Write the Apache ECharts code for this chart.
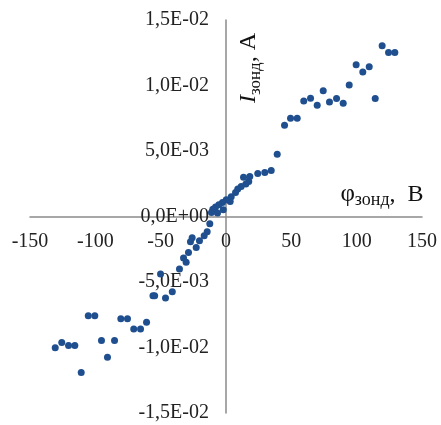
<!DOCTYPE html>
<html>
<head>
<meta charset="utf-8">
<script src="https://cdn.jsdelivr.net/npm/echarts@6/dist/echarts.min.js"></script>
<style>html,body{margin:0;padding:0;background:#fff}#c{width:441px;height:425px}</style>
</head>
<body>
<div id="c"></div>
<script>
var phi = [119.5,124.4,129.2,99.6,109.6,104.7,94.3,74.4,114.2,59.5,64.7,69.8,79.2,84.6,89.7,44.8,49.4,54.5,39.2,34.6,29.7,24.3,18.2,13.4,17.4,15.2,11.6,9.0,7.3,4.0,3.2,0.2,-2.7,-5.5,-8.0,-10.1,-11.1,-6.5,-2.1,
  -12.4,-14.4,-16.7,-20.3,-22.8,-25.9,-27.2,-28.7,-32.5,-30.5,-35.6,-50.1,-41.1,-46.3,-55.9,-54.6,-105.4,-100.4,-80.5,-75.4,-60.8,-70.6,-65.4,-95.3,-85.3,-130.7,-125.7,-120.5,-115.7,-90.7,-110.8];
var current = [0.01304,0.01251,0.01251,0.01159,0.01144,0.01103,0.01004,0.00959,0.00900,0.00882,0.00903,0.00850,0.00875,0.00900,0.00865,0.00697,0.00750,0.00750,0.00476,0.00351,0.00336,0.00328,0.00305,0.00300,0.00267,0.00249,0.00229,0.00209,0.00183,0.00150,0.00114,0.00127,0.00107,0.00089,0.00072,0.00056,0.00031,0.00026,0.00051,
  -0.00056,-0.00117,-0.00147,-0.00185,-0.00236,-0.00162,-0.00193,-0.00275,-0.00317,-0.00349,-0.00401,-0.00439,-0.00574,-0.00622,-0.00605,-0.00605,-0.00757,-0.00757,-0.00780,-0.00780,-0.00808,-0.00859,-0.00859,-0.00946,-0.00946,-0.01001,-0.00961,-0.00984,-0.00984,-0.01075,-0.01190];
var xTicks = {min: -150, max: 150, step: 50};
var yTicks = {min: -0.015, max: 0.015, step: 0.005};

function fmtE(v) {
  if (Math.abs(v) < 1e-12) return '0,0E+00';
  var s = v.toExponential(1);
  var m = s.split('e');
  var mant = m[0].replace('.', ',');
  var ex = parseInt(m[1], 10);
  var sign = ex < 0 ? '-' : '+';
  var ea = Math.abs(ex);
  return mant + 'E' + sign + (ea < 10 ? '0' + ea : '' + ea);
}

var W = 441, H = 425;
var G = {left: 30, right: 19, top: 20, bottom: 12};
var gw = W - G.left - G.right, gh = H - G.top - G.bottom;
var yOffset = -gw * (0 - xTicks.min) / (xTicks.max - xTicks.min);
var xOffset = -gh * (yTicks.max - 0) / (yTicks.max - yTicks.min);

var pts = phi.map(function (x, i) { return [x, current[i]]; });
var FONT = '"Liberation Serif", "Times New Roman", serif';
var chart = echarts.init(document.getElementById('c'), null, {renderer: 'canvas'});
chart.setOption({
  animation: false,
  backgroundColor: '#fff',
  grid: {left: G.left, right: G.right, top: G.top, bottom: G.bottom, containLabel: false, outerBoundsMode: 'none'},
  xAxis: {
    type: 'value', min: xTicks.min, max: xTicks.max, interval: xTicks.step,
    position: 'bottom', offset: xOffset,
    axisLine: {show: true, onZero: false, lineStyle: {color: '#8a8a8a', width: 1.5}},
    axisTick: {show: false},
    splitLine: {show: false},
    axisLabel: {fontFamily: FONT, fontSize: 20, color: '#222', margin: 15}
  },
  yAxis: {
    type: 'value', min: yTicks.min, max: yTicks.max, interval: yTicks.step,
    position: 'left', offset: yOffset,
    axisLine: {show: true, onZero: false, lineStyle: {color: '#8a8a8a', width: 1.5}},
    axisTick: {show: false},
    splitLine: {show: false},
    axisLabel: {fontFamily: FONT, fontSize: 20, color: '#222', margin: 17, formatter: fmtE}
  },
  graphic: [
    {
      type: 'text', x: 249, y: 68, rotation: Math.PI / 2,
      style: {
        text: '{i|I}{s|зонд}{n|, A}',
        align: 'center', verticalAlign: 'middle',
        rich: {
          i: {fontFamily: FONT, fontSize: 24, fontStyle: 'italic', fill: '#111', verticalAlign: 'bottom'},
          s: {fontFamily: FONT, fontSize: 17, fill: '#111', verticalAlign: 'bottom', padding: [0, 0, -3, 0]},
          n: {fontFamily: FONT, fontSize: 24, fill: '#111', verticalAlign: 'bottom'}
        }
      }
    },
    {
      type: 'text', x: 382, y: 194,
      style: {
        text: '{p|φ}{s|зонд}{n|,  B}',
        align: 'center', verticalAlign: 'middle',
        rich: {
          p: {fontFamily: FONT, fontSize: 25, fill: '#111', verticalAlign: 'bottom'},
          s: {fontFamily: FONT, fontSize: 18, fill: '#111', verticalAlign: 'bottom', padding: [0, 0, -3, 0]},
          n: {fontFamily: FONT, fontSize: 24, fill: '#111', verticalAlign: 'bottom'}
        }
      }
    }
  ],
  series: [{
    type: 'scatter',
    data: pts,
    symbol: 'circle',
    symbolSize: 7,
    itemStyle: {color: '#1f4f8e', opacity: 1}
  }]
});
</script>
</body>
</html>
